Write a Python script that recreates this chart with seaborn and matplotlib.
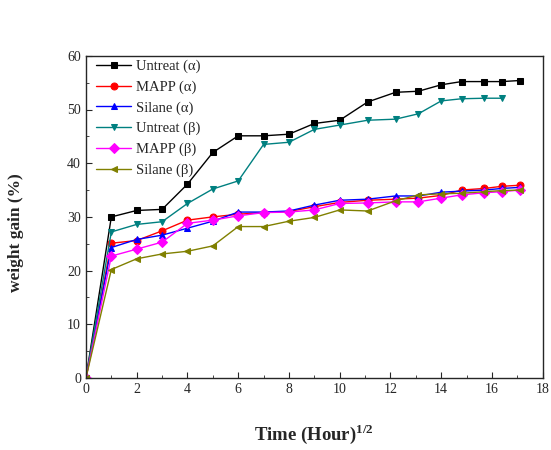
import pandas as pd
import matplotlib
matplotlib.use("Agg")
import matplotlib.pyplot as plt
import seaborn as sns
from matplotlib.ticker import MultipleLocator

# sampling times, square root of hours
time_full = [0, 1, 2, 3, 4, 5, 6, 7, 8, 9, 10, 11.1, 12.2, 13.1, 14, 14.8, 15.7, 16.4, 17.1]

untreat_a = [0, 30.0, 31.2, 31.4, 36.1, 42.0, 45.1, 45.1, 45.4, 47.4, 48.0, 51.4, 53.2, 53.4, 54.6, 55.2, 55.2, 55.2, 55.4]
mapp_a = [0, 25.1, 25.6, 27.4, 29.4, 30.0, 30.5, 30.8, 31.0, 31.9, 32.7, 33.1, 33.3, 33.5, 34.0, 35.0, 35.3, 35.7, 35.9]
silane_a = [0, 24.3, 25.8, 26.6, 27.9, 29.2, 30.9, 30.9, 31.1, 32.2, 33.1, 33.3, 33.9, 33.9, 34.6, 34.8, 35.0, 35.3, 35.5]
untreat_b = [0, 27.2, 28.6, 29.1, 32.5, 35.2, 36.7, 43.5, 43.9, 46.3, 47.1, 48.0, 48.2, 49.2, 51.6, 52.0, 52.1, 52.1]
mapp_b = [0, 22.7, 24.0, 25.3, 28.8, 29.4, 30.2, 30.8, 30.9, 31.3, 32.5, 32.6, 32.8, 32.8, 33.5, 34.1, 34.5, 34.7, 35.0]
silane_b = [0, 20.2, 22.2, 23.1, 23.6, 24.6, 28.2, 28.2, 29.2, 29.9, 31.3, 31.1, 33.0, 34.1, 34.3, 34.4, 34.7, 34.9, 35.0]

labels = ["Untreat (α)", "MAPP (α)", "Silane (α)", "Untreat (β)", "MAPP (β)", "Silane (β)"]
series = [untreat_a, mapp_a, silane_a, untreat_b, mapp_b, silane_b]
colors = ["black", "red", "blue", "#008080", "magenta", "#808000"]
markers = ["s", "o", "^", "v", "D", "<"]

sns.set_style("ticks")
plt.rcParams["font.family"] = ["Liberation Serif", "DejaVu Serif"]
plt.rcParams["mathtext.fontset"] = "custom"
plt.rcParams["mathtext.bf"] = "Liberation Serif:bold"
plt.rcParams["mathtext.rm"] = "Liberation Serif"

fig = plt.figure(figsize=(5.51, 4.5), dpi=100)
ax = fig.add_axes([0.156, 0.16, 0.829, 0.716])

for vals, label, c, m in zip(series, labels, colors, markers):
    df = pd.DataFrame({"t": time_full[:len(vals)], "w": vals})
    sns.lineplot(data=df, x="t", y="w", ax=ax, color=c, marker=m,
                 markersize=5, markeredgecolor=c, linewidth=1.0, label=label)

ax.set_xlim(0, 18)
ax.set_ylim(0, 60)
ax.xaxis.set_major_locator(MultipleLocator(2))
ax.xaxis.set_minor_locator(MultipleLocator(1))
ax.yaxis.set_major_locator(MultipleLocator(10))
ax.yaxis.set_minor_locator(MultipleLocator(5))
ax.tick_params(which="both", direction="in", labelsize=10)
ax.tick_params(which="major", length=4)
ax.tick_params(which="minor", length=2)
for s in ax.spines.values():
    s.set_linewidth(1.0)

ax.set_xlabel(r"Time (Hour)$^{\mathbf{1/2}}$", fontsize=13.5, fontweight="bold", labelpad=19)
ax.set_ylabel("weight gain (%)", fontsize=12.5, fontweight="bold")
ax.yaxis.set_label_coords(-0.135, 0.45)

ax.legend(loc="upper left", bbox_to_anchor=(0.0, 1.02), frameon=False, fontsize=10.5,
          handlelength=2.4, labelspacing=0.5, handletextpad=0.3, borderaxespad=0.3)

fig.savefig("out.png", dpi=100)
